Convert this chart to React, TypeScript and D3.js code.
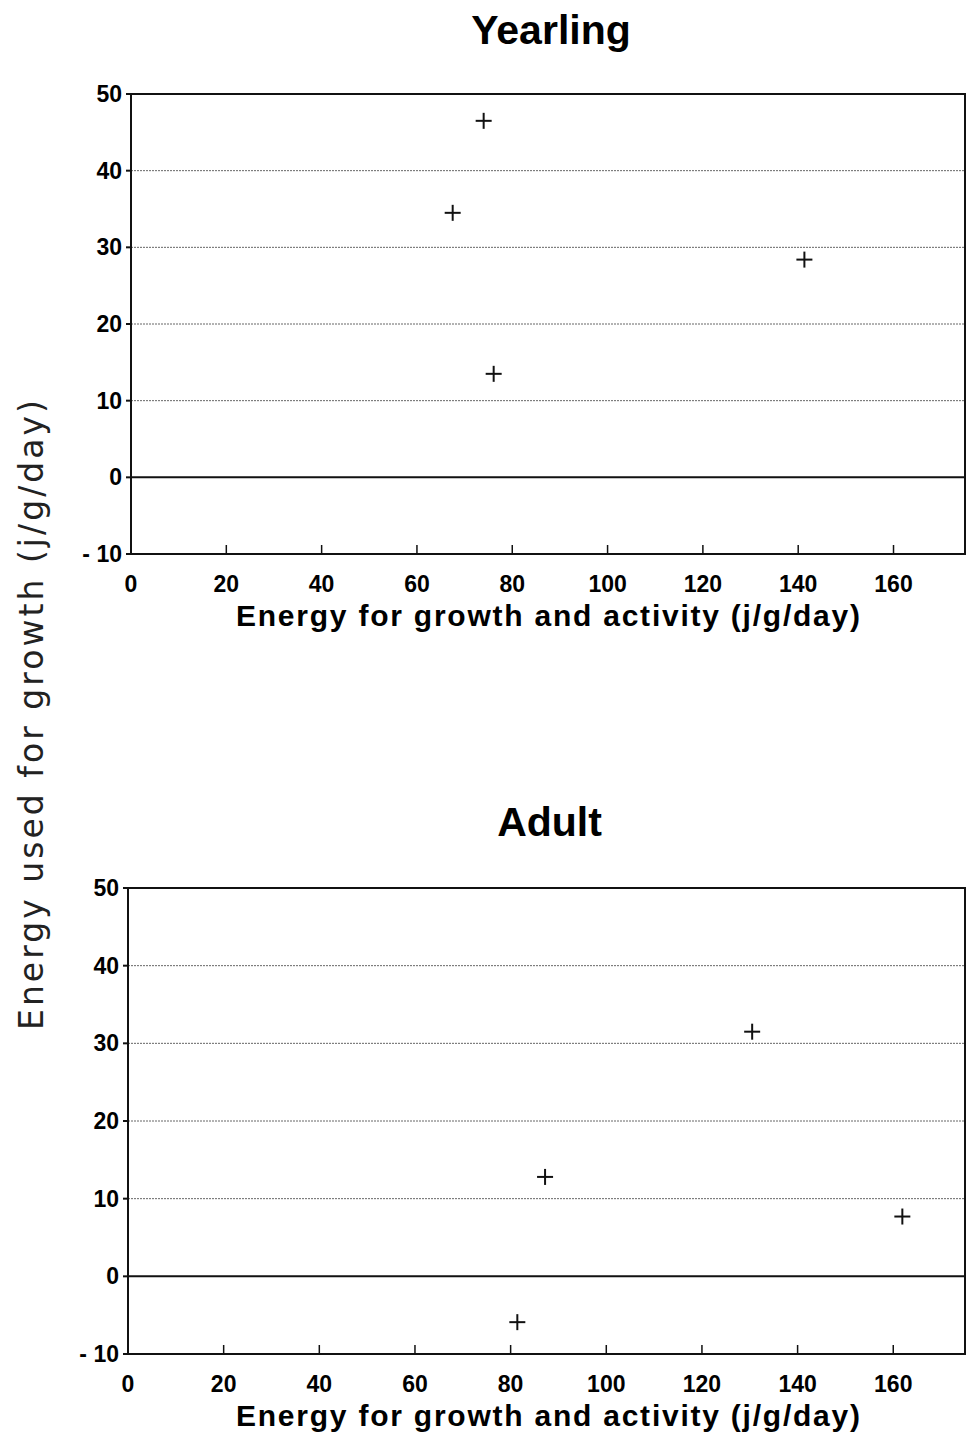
import React, { useRef, useEffect } from "react";
import * as d3 from "d3";

// values
const yearlingX = [74.0, 67.5, 76.1, 141.3];
const yearlingY = [46.5, 34.5, 13.5, 28.4];
const adultX = [130.5, 87.2, 161.9, 81.4];
const adultY = [31.5, 12.8, 7.7, -5.9];

const xTicks = [0, 20, 40, 60, 80, 100, 120, 140, 160];
const yTicks = [-10, 0, 10, 20, 30, 40, 50];
const gridValues = [10, 20, 30, 40];

const panels = [
    { title: "Yearling", xs: yearlingX, ys: yearlingY, left: 131, right: 965, top: 94, bottom: 554, titleY: 44 },
    { title: "Adult", xs: adultX, ys: adultY, left: 128, right: 965, top: 888, bottom: 1354, titleY: 836 },
];

const App = () => {
    const svgRef = useRef(null);

    useEffect(() => {
        const svg = d3.select(svgRef.current);
        svg.selectAll("*").remove();
        const font = "'Liberation Sans', Arial, sans-serif";

        panels.forEach(p => {
            const x = d3.scaleLinear().domain([0, 175]).range([p.left, p.right]);
            const y = d3.scaleLinear().domain([-10, 50]).range([p.bottom, p.top]);
            const g = svg.append("g");

            // title
            g.append("text")
                .attr("x", (p.left + p.right) / 2 + 3)
                .attr("y", p.titleY)
                .attr("text-anchor", "middle")
                .style("font-family", font)
                .style("font-size", "41px")
                .style("font-weight", "bold")
                .text(p.title);

            // dotted gridlines
            g.selectAll(".grid")
                .data(gridValues)
                .join("line")
                .attr("x1", p.left)
                .attr("x2", p.right)
                .attr("y1", d => y(d))
                .attr("y2", d => y(d))
                .attr("stroke", "#666")
                .attr("stroke-width", 1)
                .attr("stroke-dasharray", "2,1");

            // zero line
            g.append("line")
                .attr("x1", p.left).attr("x2", p.right)
                .attr("y1", y(0)).attr("y2", y(0))
                .attr("stroke", "#111").attr("stroke-width", 2);

            // frame
            g.append("rect")
                .attr("x", p.left).attr("y", p.top)
                .attr("width", p.right - p.left).attr("height", p.bottom - p.top)
                .attr("fill", "none")
                .attr("stroke", "#111")
                .attr("stroke-width", 2);

            // y ticks + labels
            g.selectAll(".yt")
                .data(yTicks)
                .join("line")
                .attr("x1", p.left - 5).attr("x2", p.left)
                .attr("y1", d => y(d)).attr("y2", d => y(d))
                .attr("stroke", "#111").attr("stroke-width", 2);
            g.selectAll(".yl")
                .data(yTicks)
                .join("text")
                .attr("x", p.left - 9)
                .attr("y", d => y(d) + 8)
                .attr("text-anchor", "end")
                .style("font-family", font)
                .style("font-size", "23px")
                .style("font-weight", "bold")
                .text(d => (d < 0 ? "- " + Math.abs(d) : String(d)));

            // x ticks + labels
            g.selectAll(".xt")
                .data(xTicks.filter(d => d > 0))
                .join("line")
                .attr("x1", d => x(d)).attr("x2", d => x(d))
                .attr("y1", p.bottom).attr("y2", p.bottom - 9)
                .attr("stroke", "#111").attr("stroke-width", 1.5);
            g.selectAll(".xl")
                .data(xTicks)
                .join("text")
                .attr("x", d => x(d))
                .attr("y", p.bottom + 38)
                .attr("text-anchor", "middle")
                .style("font-family", font)
                .style("font-size", "23px")
                .style("font-weight", "bold")
                .text(d => d);

            // x axis title
            g.append("text")
                .attr("x", 548)
                .attr("y", p.bottom + 72)
                .attr("text-anchor", "middle")
                .attr("textLength", 624)
                .attr("lengthAdjust", "spacing")
                .style("font-family", font)
                .style("font-size", "30px")
                .style("font-weight", "bold")
                .text("Energy for growth and activity (j/g/day)");

            // points as crosses
            const pts = p.xs.map((v, i) => [x(v), y(p.ys[i])]);
            const cross = g.selectAll(".pt").data(pts).join("g")
                .attr("transform", d => `translate(${d[0]},${d[1]})`);
            cross.append("line").attr("x1", -8).attr("x2", 8).attr("y1", 0).attr("y2", 0)
                .attr("stroke", "#111").attr("stroke-width", 2);
            cross.append("line").attr("x1", 0).attr("x2", 0).attr("y1", -8).attr("y2", 8)
                .attr("stroke", "#111").attr("stroke-width", 2);
        });

        // shared y axis title
        svg.append("text")
            .attr("transform", "translate(43,715) rotate(-90)")
            .attr("text-anchor", "middle")
            .attr("textLength", 630)
            .attr("lengthAdjust", "spacing")
            .style("font-family", "'DejaVu Sans', sans-serif")
            .style("font-size", "33px")
            .style("fill", "#222")
            .text("Energy used for growth (j/g/day)");
    }, []);

    return (
        <div style={{ position: "absolute", left: 0, top: 0, background: "white" }}>
            <svg ref={svgRef} width={966} height={1437} style={{ display: "block" }} />
        </div>
    );
};

export default App;
